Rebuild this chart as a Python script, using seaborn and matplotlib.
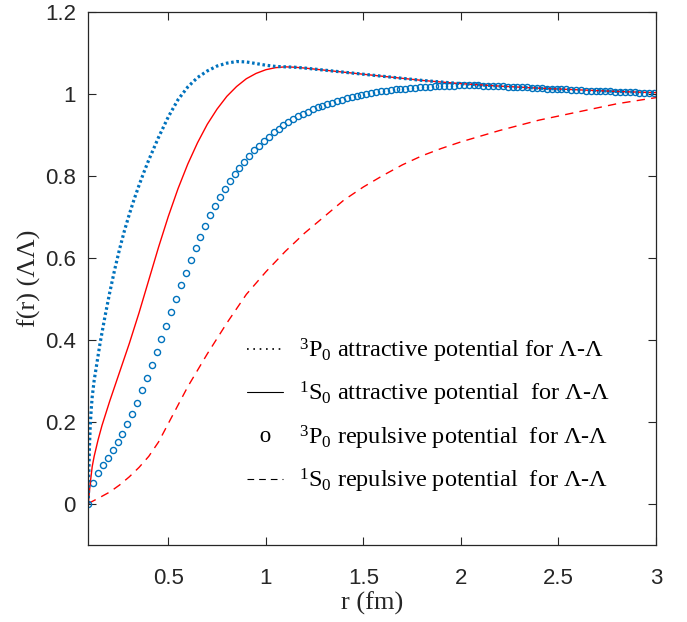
import numpy as np
import pandas as pd
import matplotlib
matplotlib.use("Agg")
import matplotlib.pyplot as plt
from matplotlib.lines import Line2D
from matplotlib.ticker import FuncFormatter
import seaborn as sns

# ---------------- data ----------------
r_p_att = [0.09, 0.093, 0.096, 0.10, 0.105, 0.11, 0.12, 0.135, 0.15, 0.175, 0.20, 0.225,
           0.25, 0.275, 0.30, 0.325, 0.35, 0.375, 0.40, 0.45, 0.50, 0.55, 0.60, 0.65,
           0.70, 0.75, 0.80, 0.85, 0.90, 0.95, 1.00, 1.05, 1.10, 1.15, 1.20, 1.30,
           1.40, 1.50, 1.60, 1.70, 1.80, 1.90, 2.00, 2.20, 2.40, 2.60, 2.80, 3.00]
f_p_att = [0.00, 0.08, 0.14, 0.19, 0.23, 0.26, 0.30, 0.345, 0.39, 0.455, 0.515, 0.57,
           0.62, 0.665, 0.705, 0.742, 0.776, 0.808, 0.838, 0.893, 0.943, 0.985, 1.016, 1.039,
           1.055, 1.067, 1.074, 1.078, 1.077, 1.073, 1.069, 1.066, 1.065, 1.064, 1.062, 1.057,
           1.052, 1.047, 1.042, 1.037, 1.032, 1.028, 1.024, 1.018, 1.013, 1.009, 1.005, 1.002]

r_s_att = [0.09, 0.10, 0.11, 0.12, 0.14, 0.16, 0.18, 0.20, 0.225, 0.25, 0.275, 0.30,
           0.35, 0.40, 0.45, 0.50, 0.55, 0.60, 0.65, 0.70, 0.75, 0.80, 0.85, 0.90,
           0.95, 1.00, 1.05, 1.10, 1.15, 1.20, 1.30, 1.40, 1.50, 1.60, 1.70, 1.80,
           1.90, 2.00, 2.20, 2.40, 2.60, 2.80, 3.00]
f_s_att = [0.00, 0.05, 0.09, 0.115, 0.155, 0.19, 0.22, 0.25, 0.285, 0.32, 0.355, 0.39,
           0.465, 0.545, 0.625, 0.70, 0.768, 0.828, 0.88, 0.925, 0.962, 0.993, 1.017, 1.036,
           1.049, 1.058, 1.063, 1.065, 1.064, 1.062, 1.057, 1.052, 1.047, 1.042, 1.037, 1.032,
           1.028, 1.024, 1.018, 1.013, 1.009, 1.005, 1.002]

r_p_rep = [0.09, 0.115, 0.14, 0.165, 0.19, 0.215, 0.24, 0.265, 0.29, 0.315, 0.34, 0.365,
           0.39, 0.415, 0.44, 0.465, 0.49, 0.515, 0.54, 0.565, 0.59, 0.615, 0.64, 0.665,
           0.69, 0.715, 0.74, 0.765, 0.79, 0.815, 0.84, 0.865, 0.89, 0.915, 0.94, 0.965,
           0.99, 1.015, 1.04, 1.065, 1.09, 1.115, 1.14, 1.165, 1.19, 1.215, 1.24, 1.265,
           1.29, 1.315, 1.34, 1.365, 1.39, 1.415, 1.44, 1.465, 1.49, 1.515, 1.54, 1.565,
           1.59, 1.615, 1.64, 1.665, 1.69, 1.715, 1.74, 1.765, 1.79, 1.815, 1.84, 1.865,
           1.89, 1.915, 1.94, 1.965, 1.99, 2.015, 2.04, 2.065, 2.09, 2.115, 2.14, 2.165,
           2.19, 2.215, 2.24, 2.265, 2.29, 2.315, 2.34, 2.365, 2.39, 2.415, 2.44, 2.465,
           2.49, 2.515, 2.54, 2.565, 2.59, 2.615, 2.64, 2.665, 2.69, 2.715, 2.74, 2.765,
           2.79, 2.815, 2.84, 2.865, 2.89, 2.915, 2.94, 2.965, 2.99]
f_p_rep = [0.000, 0.050, 0.075, 0.093, 0.112, 0.131, 0.150, 0.170, 0.194, 0.219, 0.246, 0.276,
           0.307, 0.338, 0.369, 0.401, 0.433, 0.466, 0.500, 0.532, 0.563, 0.594, 0.623, 0.651,
           0.678, 0.703, 0.726, 0.747, 0.767, 0.786, 0.803, 0.819, 0.834, 0.848, 0.861, 0.873,
           0.884, 0.895, 0.905, 0.914, 0.922, 0.930, 0.937, 0.944, 0.950, 0.956, 0.961, 0.966,
           0.970, 0.974, 0.978, 0.982, 0.985, 0.988, 0.991, 0.994, 0.996, 0.999, 1.001, 1.003,
           1.005, 1.007, 1.008, 1.010, 1.011, 1.012, 1.013, 1.014, 1.015, 1.016, 1.017, 1.018,
           1.018, 1.019, 1.019, 1.019, 1.020, 1.020, 1.020, 1.020, 1.020, 1.019, 1.019, 1.019,
           1.018, 1.018, 1.017, 1.017, 1.016, 1.016, 1.015, 1.014, 1.014, 1.013, 1.012, 1.012,
           1.011, 1.010, 1.010, 1.009, 1.008, 1.008, 1.007, 1.007, 1.006, 1.006, 1.005, 1.005,
           1.004, 1.004, 1.003, 1.003, 1.003, 1.002, 1.002, 1.002, 1.001]

r_s_rep = [0.09, 0.15, 0.20, 0.25, 0.30, 0.35, 0.40, 0.45, 0.50, 0.55, 0.60, 0.65,
           0.70, 0.80, 0.90, 1.00, 1.10, 1.20, 1.30, 1.40, 1.50, 1.60, 1.70, 1.80,
           1.90, 2.00, 2.20, 2.40, 2.60, 2.80, 3.00]
f_s_rep = [0.00, 0.015, 0.028, 0.045, 0.065, 0.088, 0.115, 0.15, 0.195, 0.24, 0.285, 0.325,
           0.365, 0.44, 0.51, 0.565, 0.615, 0.66, 0.70, 0.74, 0.772, 0.80, 0.826, 0.848,
           0.866, 0.882, 0.91, 0.935, 0.955, 0.975, 0.99]

legend_labels = [
    r"$^{3}$P$_{0}$ attractive potential for Λ-Λ",
    r"$^{1}$S$_{0}$ attractive potential  for Λ-Λ",
    r"$^{3}$P$_{0}$ repulsive potential  for Λ-Λ",
    r"$^{1}$S$_{0}$ repulsive potential  for Λ-Λ",
]
x_ticks = [0.5, 1, 1.5, 2, 2.5, 3]
y_ticks = [0, 0.2, 0.4, 0.6, 0.8, 1, 1.2]

# ---------------- style ----------------
sns.set_theme(style="white")
plt.rcParams["font.family"] = ["Liberation Sans", "DejaVu Sans"]
plt.rcParams["mathtext.fontset"] = "custom"
plt.rcParams["mathtext.rm"] = "Liberation Serif"
plt.rcParams["mathtext.it"] = "Liberation Serif:italic"

BLUE = "#0072BD"
RED = "#FF0000"
GRAY = "#262626"
SERIF = ["Liberation Serif", "DejaVu Serif"]

fig = plt.figure(figsize=(6.87, 6.22), dpi=100)
ax = fig.add_axes([88.3 / 687, (622 - 544.5) / 622, (656 - 88.3) / 687, (544.5 - 11.5) / 622])

sns.lineplot(x=r_s_rep, y=f_s_rep, ax=ax, color=RED, lw=1.0,
             linestyle=(0, (6, 4.5)), sort=False, estimator=None)
sns.lineplot(x=r_p_rep, y=f_p_rep, ax=ax, color=BLUE, lw=0, marker="o", markersize=4.4,
             markerfacecolor="none", markeredgecolor=BLUE, markeredgewidth=1.0,
             sort=False, estimator=None)
sns.lineplot(x=r_s_att, y=f_s_att, ax=ax, color=RED, lw=1.0, sort=False, estimator=None)
sns.lineplot(x=r_p_att, y=f_p_att, ax=ax, color=BLUE, lw=2.3,
             linestyle=(0, (0.8, 0.85)), sort=False, estimator=None)

ax.set_xlim(0.09, 3.0)
ax.set_ylim(-0.1, 1.2)
ax.set_xticks(x_ticks)
ax.set_yticks(y_ticks)
fmt = FuncFormatter(lambda v, p: f"{v:g}")
ax.xaxis.set_major_formatter(fmt)
ax.yaxis.set_major_formatter(fmt)
ax.tick_params(direction="in", length=6, width=0.8, colors=GRAY, labelsize=16,
               top=True, right=True, bottom=True, left=True)
ax.tick_params(axis="x", pad=17)
ax.tick_params(axis="y", pad=9)
for s in ax.spines.values():
    s.set_color(GRAY)
    s.set_linewidth(0.9)

ax.set_xlabel("r (fm)", fontfamily=SERIF, fontsize=19, color=GRAY, labelpad=2)
ax.set_ylabel("f(r) (ΛΛ)", fontfamily=SERIF, fontsize=19, color=GRAY, labelpad=3)

handles = [
    Line2D([], [], color="black", lw=1.2, linestyle=(0, (1, 2.8))),
    Line2D([], [], color="black", lw=0.8),
    Line2D([], [], color="black", lw=0, marker=r"$\mathrm{o}$", markersize=8,
           markeredgewidth=0),
    Line2D([], [], color="black", lw=0.8, linestyle=(0, (6, 4.5))),
]
leg = ax.legend(handles, legend_labels, loc="center left",
                bbox_to_anchor=((247 - 88.3) / (656 - 88.3), (544.5 - 416) / 533),
                frameon=False, prop={"family": SERIF, "size": 17.5},
                handlelength=1.5, handletextpad=0.65, labelspacing=0.62, borderaxespad=0,
                borderpad=0)
for t in leg.get_texts():
    t.set_color("black")

fig.savefig("out.png", dpi=100)
